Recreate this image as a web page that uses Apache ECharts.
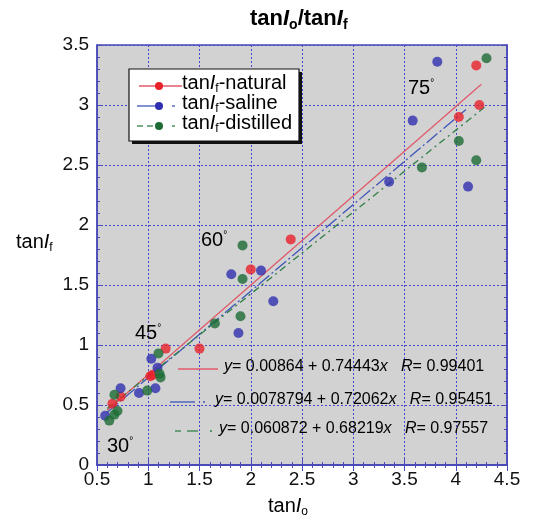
<!DOCTYPE html>
<html>
<head>
<meta charset="utf-8">
<script src="https://cdn.jsdelivr.net/npm/echarts@6/dist/echarts.min.js"></script>
<style>
    html, body { margin: 0; padding: 0; background: #fff; }
    #chart { width: 546px; height: 521px; }
</style>
</head>
<body>
<div id="chart"></div>
<script>
// measured points, [tanIo, tanIf]
const naturalPts = [[0.65, 0.51], [0.73, 0.57], [1.02, 0.74], [1.04, 0.75], [1.17, 0.97], [1.5, 0.97],
    [2.0, 1.63], [2.39, 1.88], [4.03, 2.90], [4.23, 3.0], [4.20, 3.33]]
const salinePts = [[0.58, 0.41], [0.73, 0.64], [0.91, 0.60], [1.07, 0.64], [1.09, 0.81], [1.03, 0.885],
    [1.81, 1.59], [1.88, 1.10], [2.10, 1.62], [2.22, 1.365], [3.35, 2.36], [3.58, 2.87], [3.82, 3.36], [4.12, 2.32]]
const distilledPts = [[0.62, 0.37], [0.67, 0.42], [0.70, 0.45], [0.67, 0.585], [0.99, 0.62], [1.11, 0.76],
    [1.10, 0.93], [1.12, 0.73], [1.65, 1.18], [1.90, 1.24], [1.92, 1.55], [1.92, 1.83], [3.67, 2.48],
    [4.03, 2.70], [4.20, 2.54], [4.30, 3.39]]

// fit coefficients [a, b, R] and x range of drawn line
const naturalFit = [0.00864, 0.74443, 0.99401]
const salineFit = [0.0078794, 0.72062, 0.95451]
const distilledFit = [0.060872, 0.68219, 0.97557]
const naturalSpan = [0.6, 4.25]
const salineSpan = [0.6, 4.1]
const distilledSpan = [0.6, 4.28]

const xTicks = [0.5, 4.5, 0.5]   // min, max, interval
const yTicks = [0, 3.5, 0.5]

const RED = "#e8202a", BLUE = "#2f2fb0", GREEN = "#1d6b35"
const RED_L = "#e05a6a", BLUE_L = "#3f56b8", GREEN_L = "#2f8048"
const FONT = "Liberation Sans, Arial, sans-serif"

function fitLine(fit, span) {
    return span.map(x => [x, fit[0] + fit[1] * x])
}

const chart = echarts.init(document.getElementById("chart"))

function richSet(color, size, bold) {
    const w = bold ? "bold" : "normal"
    return {
        n: { fontSize: size, fontFamily: FONT, color: color, fontWeight: w },
        i: { fontSize: size, fontFamily: FONT, fontStyle: "italic", color: color, fontWeight: w },
        s: { fontSize: Math.round(size * 0.62), fontFamily: FONT, color: color, fontWeight: w,
             padding: [Math.round(size * 0.55), 0, 0, 0] }
    }
}

function axisCommon() {
    return {
        type: "value",
        axisLine: { show: true, lineStyle: { color: "#4a4ab8", width: 1.5 } },
        axisTick: { show: true, inside: true, length: 6, lineStyle: { color: "#4a4ab8" } },
        minorTick: { show: true, splitNumber: 5, length: 3, lineStyle: { color: "#4a4ab8" } },
        splitLine: { show: false },
        axisLabel: { show: false }
    }
}

const option = {
    animation: false,
    backgroundColor: "#fff",
    grid: {
        left: 97, right: 39, top: 45, bottom: 56,
        show: true, backgroundColor: "#d2d2d2", borderColor: "#4a4ab8", borderWidth: 1.5
    },
    xAxis: [
        Object.assign(axisCommon(), {
            min: xTicks[0], max: xTicks[1], interval: xTicks[2],
            axisLabel: { show: true, fontSize: 19, color: "#111", fontFamily: FONT, margin: 5 },
            splitLine: { show: true, lineStyle: { color: "#4848cc", type: [2, 2], width: 1 } }
        }),
        Object.assign(axisCommon(), { min: xTicks[0], max: xTicks[1], interval: xTicks[2], position: "top" })
    ],
    yAxis: [
        Object.assign(axisCommon(), {
            min: yTicks[0], max: yTicks[1], interval: yTicks[2],
            axisLabel: { show: true, fontSize: 19, color: "#111", fontFamily: FONT, margin: 8 },
            splitLine: { show: true, lineStyle: { color: "#4848cc", type: [2, 2], width: 1 } }
        }),
        Object.assign(axisCommon(), { min: yTicks[0], max: yTicks[1], interval: yTicks[2], position: "right" })
    ],
    series: [
        { type: "line", data: fitLine(naturalFit, naturalSpan), symbol: "none", z: 3,
          lineStyle: { color: RED_L, width: 1.3 } },
        { type: "line", data: fitLine(salineFit, salineSpan), symbol: "none", z: 3,
          lineStyle: { color: BLUE_L, width: 1.3, type: [14, 3, 2, 3] } },
        { type: "line", data: fitLine(distilledFit, distilledSpan), symbol: "none", z: 3,
          lineStyle: { color: GREEN_L, width: 1.3, type: [7, 4, 2, 4] } },
        { type: "scatter", data: naturalPts, symbolSize: 10, z: 4, itemStyle: { color: RED } },
        { type: "scatter", data: salinePts, symbolSize: 10, z: 4, itemStyle: { color: BLUE } },
        { type: "scatter", data: distilledPts, symbolSize: 10, z: 4, itemStyle: { color: GREEN } }
    ],
    graphic: []
}

const g = option.graphic

// title
g.push({ type: "text", left: 250, top: 8, style: {
    rich: richSet("#111", 22, true),
    text: "{n|tan}{i|I}{s|o}{n|/tan}{i|I}{s|f}"
} })

// axis names
g.push({ type: "text", left: 16, top: 232, style: { rich: richSet("#111", 20), text: "{n|tan}{i|I}{s|f}" } })
g.push({ type: "text", left: 268, top: 496, style: { rich: richSet("#111", 20), text: "{n|tan}{i|I}{s|o}" } })

// angle notes
const angleNotes = [["75", 408, 78], ["60", 201, 230], ["45", 135, 323], ["30", 107, 436]]
angleNotes.forEach(a => {
    g.push({ type: "text", left: a[1], top: a[2], z: 10, style: {
        rich: {
            n: { fontSize: 20, fontFamily: FONT, color: "#111" },
            d: { fontSize: 10, fontFamily: FONT, color: "#111", padding: [0, 0, 10, 0] }
        },
        text: "{n|" + a[0] + "}{d|°}"
    } })
})

// small line key: segments [x1, x2] plus a dot position
function key(y, color, dotColor, segs, dotX) {
    segs.forEach(s => {
        g.push({ type: "line", z: 11, shape: { x1: s[0], y1: y, x2: s[1], y2: y },
            style: { stroke: color, lineWidth: 1.3 } })
    })
    if (dotX) g.push({ type: "circle", z: 12, shape: { cx: dotX, cy: y, r: 4 }, style: { fill: dotColor } })
}

// legend box
g.push({ type: "rect", shape: { x: 132, y: 72, width: 170, height: 72 }, style: { fill: "#111" }, z: 9 })
g.push({ type: "rect", shape: { x: 129, y: 69, width: 170, height: 72 },
    style: { fill: "#fff", stroke: "#111", lineWidth: 1.2 }, z: 10 })

const legendRows = [
    ["natural", RED, RED_L, [[139, 182]], 86],
    ["saline", BLUE, BLUE_L, [[137, 156], [172, 175]], 106],
    ["distilled", GREEN, GREEN_L, [[137, 143], [147, 153], [172, 175]], 126]
]
legendRows.forEach(r => {
    key(r[4], r[2], r[1], r[3], 159)
    g.push({ type: "text", z: 12, left: 182, top: r[4] - 13, style: {
        rich: richSet(r[1], 20),
        text: "{n|tan}{i|I}{s|f}{n|-" + r[0] + "}"
    } })
})

// fit equations
const eqRows = [
    [naturalFit, RED, RED_L, [[178, 218]], null, 369, 224, "0.00864", "0.74443"],
    [salineFit, BLUE, BLUE_L, [[170, 195], [203, 205]], null, 402, 215, "0.0078794", "0.72062"],
    [distilledFit, GREEN, GREEN_L, [[175, 181], [187, 198], [210, 212]], null, 431, 219, "0.060872", "0.68219"]
]
eqRows.forEach(r => {
    key(r[5], r[2], r[1], r[3], r[4])
    g.push({ type: "text", z: 12, left: r[6], top: r[5] - 10, style: {
        rich: {
            n: { fontSize: 16, fontFamily: FONT, color: r[1] },
            i: { fontSize: 16, fontFamily: FONT, fontStyle: "italic", color: r[1] }
        },
        text: "{i|y}{n|= " + r[7] + " + " + r[8] + "}{i|x}{n|   }{i|R}{n|= " + r[0][2].toFixed(5) + "}"
    } })
})

chart.setOption(option)
</script>
</body>
</html>
